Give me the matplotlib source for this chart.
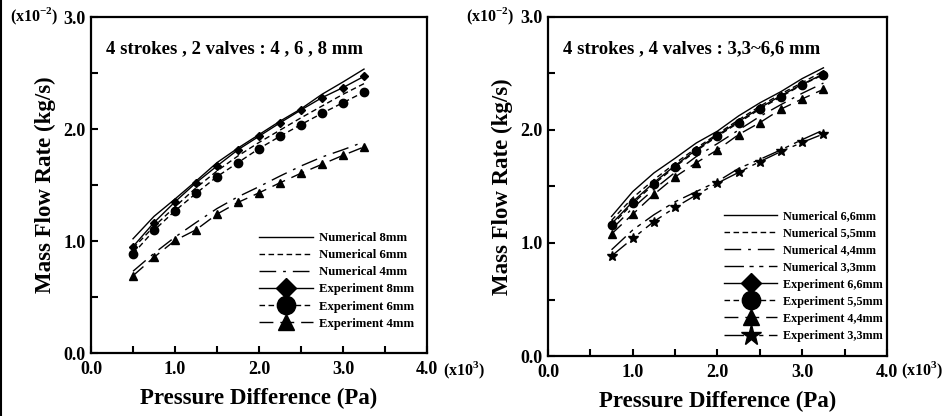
import numpy as np
import matplotlib
matplotlib.use('Agg')
import matplotlib.pyplot as plt
from matplotlib.lines import Line2D
import matplotlib.ticker as ticker

plt.rcParams['font.family'] = ['Liberation Serif', 'DejaVu Serif']
plt.rcParams['font.weight'] = 'bold'
plt.rcParams['mathtext.fontset'] = 'custom'
plt.rcParams['mathtext.rm'] = 'Liberation Serif:bold'
plt.rcParams['mathtext.bf'] = 'Liberation Serif:bold'

# ---- data (x in 10^3 Pa, y in 10^-2 kg/s) ----
x_2v = [0.5, 0.75, 1.0, 1.25, 1.5, 1.75, 2.0, 2.25, 2.5, 2.75, 3.0, 3.25]
num_8mm = [1.02, 1.22, 1.375, 1.535, 1.70, 1.83, 1.95, 2.07, 2.18, 2.31, 2.42, 2.535]
num_6mm = [0.935, 1.13, 1.305, 1.475, 1.625, 1.76, 1.88, 1.99, 2.10, 2.205, 2.31, 2.405]
num_4mm = [0.73, 0.89, 1.035, 1.165, 1.29, 1.395, 1.485, 1.58, 1.67, 1.75, 1.815, 1.885]
exp_8mm = [0.95, 1.165, 1.35, 1.52, 1.67, 1.815, 1.935, 2.055, 2.17, 2.28, 2.37, 2.47]
exp_6mm = [0.885, 1.095, 1.27, 1.425, 1.575, 1.70, 1.825, 1.935, 2.04, 2.14, 2.235, 2.33]
exp_4mm = [0.69, 0.855, 1.005, 1.10, 1.24, 1.345, 1.43, 1.52, 1.605, 1.685, 1.765, 1.84]

x_4v = [0.75, 1.0, 1.25, 1.5, 1.75, 2.0, 2.25, 2.5, 2.75, 3.0, 3.25]
num_66 = [1.235, 1.455, 1.62, 1.75, 1.885, 1.99, 2.125, 2.24, 2.34, 2.455, 2.55]
num_55 = [1.20, 1.40, 1.56, 1.705, 1.84, 1.965, 2.09, 2.21, 2.32, 2.42, 2.52]
num_44 = [1.12, 1.31, 1.475, 1.625, 1.765, 1.88, 2.00, 2.12, 2.225, 2.325, 2.415]
num_33 = [0.94, 1.115, 1.25, 1.365, 1.455, 1.545, 1.66, 1.74, 1.825, 1.915, 2.00]
exp_66 = [1.17, 1.365, 1.535, 1.685, 1.825, 1.955, 2.075, 2.195, 2.305, 2.405, 2.495]
exp_55 = [1.155, 1.35, 1.52, 1.675, 1.815, 1.945, 2.065, 2.185, 2.295, 2.40, 2.49]
exp_44 = [1.08, 1.255, 1.43, 1.585, 1.71, 1.825, 1.96, 2.065, 2.185, 2.275, 2.36]
exp_33 = [0.885, 1.04, 1.19, 1.315, 1.425, 1.53, 1.625, 1.72, 1.81, 1.89, 1.965]

# line styles
SOLID = '-'
SHORT = (0, (4, 2.5))
DASHDOT = (0, (12, 5, 2, 5))
LONG = (0, (10, 5))
DASHDOTS = (0, (14, 4, 3, 4, 3, 4))

fig = plt.figure(figsize=(9.51, 4.16), dpi=100)
fig.add_artist(Line2D([0.001, 0.001], [0, 1], color='k', lw=1.5, transform=fig.transFigure))

def style_axes(ax):
    ax.set_xlim(0, 4)
    ax.set_ylim(0, 3)
    ax.xaxis.set_major_locator(ticker.MultipleLocator(1))
    ax.xaxis.set_minor_locator(ticker.MultipleLocator(0.5))
    ax.yaxis.set_major_locator(ticker.MultipleLocator(1))
    ax.yaxis.set_minor_locator(ticker.MultipleLocator(0.5))
    ax.xaxis.set_major_formatter(ticker.FormatStrFormatter('%.1f'))
    ax.yaxis.set_major_formatter(ticker.FormatStrFormatter('%.1f'))
    ax.tick_params(which='both', direction='in', width=1.5, length=5,
                   top=False, right=False, labelsize=13)
    ax.tick_params(axis='x', pad=6)
    ax.tick_params(axis='y', pad=4)
    for sp in ax.spines.values():
        sp.set_linewidth(1.6)
    ax.set_xlabel('Pressure Difference (Pa)', fontsize=16.5, fontweight='bold', labelpad=7)
    ax.set_ylabel('Mass Flow Rate (kg/s)', fontsize=16.5, fontweight='bold', labelpad=5)
    for lab in ax.get_xticklabels() + ax.get_yticklabels():
        lab.set_fontweight('bold')

# ---- left panel ----
ax1 = fig.add_axes([0.0957, 0.1514, 0.3533, 0.8077])
lw = 1.0
ax1.plot(x_2v, num_8mm, color='k', lw=lw, linestyle=SOLID, label='Numerical 8mm')
ax1.plot(x_2v, num_6mm, color='k', lw=lw, linestyle=SHORT, label='Numerical 6mm')
ax1.plot(x_2v, num_4mm, color='k', lw=lw, linestyle=DASHDOT, label='Numerical 4mm')
ax1.plot(x_2v, exp_8mm, color='k', lw=lw, linestyle=SOLID, marker='D', ms=4.5, label='Experiment 8mm')
ax1.plot(x_2v, exp_6mm, color='k', lw=lw, linestyle=SHORT, marker='o', ms=6, label='Experiment 6mm')
ax1.plot(x_2v, exp_4mm, color='k', lw=lw, linestyle=LONG, marker='^', ms=5.5, label='Experiment 4mm')
style_axes(ax1)
ax1.text(0.045, 0.905, '4 strokes , 2 valves : 4 , 6 , 8 mm', transform=ax1.transAxes,
         fontsize=13.5, fontweight='bold', va='center', ha='left')
ax1.legend(loc='upper left', bbox_to_anchor=(0.50, 0.36), frameon=False,
           fontsize=9.2, handlelength=4.2, handletextpad=0.5, labelspacing=0.4,
           markerscale=2.2, borderpad=0, borderaxespad=0)

# ---- right panel ----
ax2 = fig.add_axes([0.5762, 0.1442, 0.3565, 0.815])
ax2.plot(x_4v, num_66, color='k', lw=lw, linestyle=SOLID, label='Numerical 6,6mm')
ax2.plot(x_4v, num_55, color='k', lw=lw, linestyle=SHORT, label='Numerical 5,5mm')
ax2.plot(x_4v, num_44, color='k', lw=lw, linestyle=DASHDOT, label='Numerical 4,4mm')
ax2.plot(x_4v, num_33, color='k', lw=lw, linestyle=DASHDOTS, label='Numerical 3,3mm')
ax2.plot(x_4v, exp_66, color='k', lw=lw, linestyle=SOLID, marker='D', ms=4.5, label='Experiment 6,6mm')
ax2.plot(x_4v, exp_55, color='k', lw=lw, linestyle=SHORT, marker='o', ms=6, label='Experiment 5,5mm')
ax2.plot(x_4v, exp_44, color='k', lw=lw, linestyle=LONG, marker='^', ms=5.5, label='Experiment 4,4mm')
ax2.plot(x_4v, exp_33, color='k', lw=lw, linestyle=DASHDOTS, marker='*', ms=7, label='Experiment 3,3mm')
style_axes(ax2)
ax2.text(0.045, 0.905, '4 strokes , 4 valves : 3,3~6,6 mm', transform=ax2.transAxes,
         fontsize=13.5, fontweight='bold', va='center', ha='left')
ax2.legend(loc='upper left', bbox_to_anchor=(0.52, 0.43), frameon=False,
           fontsize=8.7, handlelength=4.4, handletextpad=0.5, labelspacing=0.42,
           markerscale=2.2, borderpad=0, borderaxespad=0)

# exponent labels
exp_y = r'(x10$^{\mathbf{-2}}$)'
exp_x = r'(x10$^{\mathbf{3}}$)'
fig.text(10 / 951, 1 - 16 / 416, exp_y, fontsize=11.5, fontweight='bold', ha='left', va='center')
fig.text(466 / 951, 1 - 16 / 416, exp_y, fontsize=11.5, fontweight='bold', ha='left', va='center')
fig.text(443 / 951, 1 - 370 / 416, exp_x, fontsize=11.5, fontweight='bold', ha='left', va='center')
fig.text(901 / 951, 1 - 370 / 416, exp_x, fontsize=11.5, fontweight='bold', ha='left', va='center')

fig.savefig('out.png', dpi=100)
